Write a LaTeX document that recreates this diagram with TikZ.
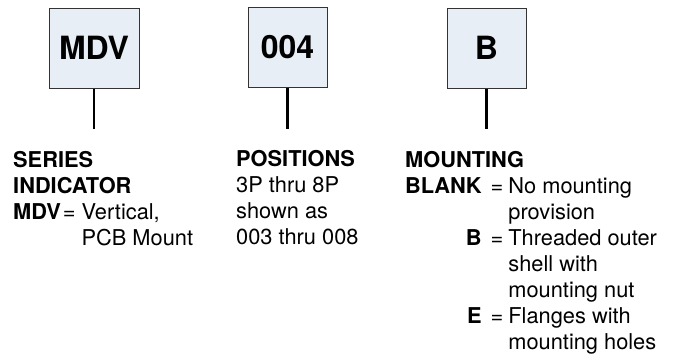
\documentclass[tikz,border=0pt]{standalone}
\usepackage{fontspec}
\setmainfont{TeX Gyre Heros}
\usepackage{xcolor}
\usepackage{tikz}
\usetikzlibrary{positioning}

\definecolor{boxfill}{RGB}{231,238,245}
\tikzset{
  codebox/.style={draw=black!80, line width=1pt, fill=boxfill, minimum height=80pt,
    minimum width=79pt, inner sep=0pt, font=\fontsize{32}{38}\selectfont\bfseries},
  stem/.style={line width=2.3pt},
  legend/.style={anchor=base west, inner sep=0pt, font=\fontsize{21.8}{26}\selectfont}
}

\begin{document}
\begin{tikzpicture}[x=1pt, y=-1pt]
  \useasboundingbox (0,0) rectangle (673,354);
  \node[codebox, minimum width=90pt] (mdv) at (94,48) {MDV};
  \node[codebox] (pos) at (287.5,47) {004};
  \node[codebox] (mnt) at (486.5,48) {B};
  \coordinate (mdv-end) at (94,129);
  \coordinate (pos-end) at (287.5,129);
  \coordinate (mnt-end) at (486.5,129);
  \draw[stem] (mdv) -- (mdv-end);
  \draw[stem] (pos) -- (pos-end);
  \draw[stem] (mnt) -- (mnt-end);
  % legends under the boxes
  \node[legend] (series) at (13,167) {\begin{tabular}[t]{@{}l@{\hspace{2pt}}l@{\hspace{6pt}}l@{}}
    \multicolumn{3}{@{}l}{\bfseries SERIES}\\
    \multicolumn{3}{@{}l}{\bfseries INDICATOR}\\
    \bfseries MDV & = & Vertical,\\
    & & PCB Mount
  \end{tabular}};
  \node[legend] (positions) at (236,166) {\begin{tabular}[t]{@{}l@{}}
    \bfseries POSITIONS\\
    3P thru 8P\\
    shown as\\
    003 thru 008
  \end{tabular}};
  \node[legend] (mounting) at (405,167) {\begin{tabular}[t]{@{}r@{\hspace{9pt}}l@{\hspace{5pt}}l@{}}
    \multicolumn{3}{@{}l}{\bfseries MOUNTING}\\
    \bfseries BLANK & = & No mounting\\
    & & provision\\
    \bfseries B & = & Threaded outer\\
    & & shell with\\
    & & mounting nut\\
    \bfseries E & = & Flanges with\\
    & & mounting holes
  \end{tabular}};
\end{tikzpicture}
\end{document}
